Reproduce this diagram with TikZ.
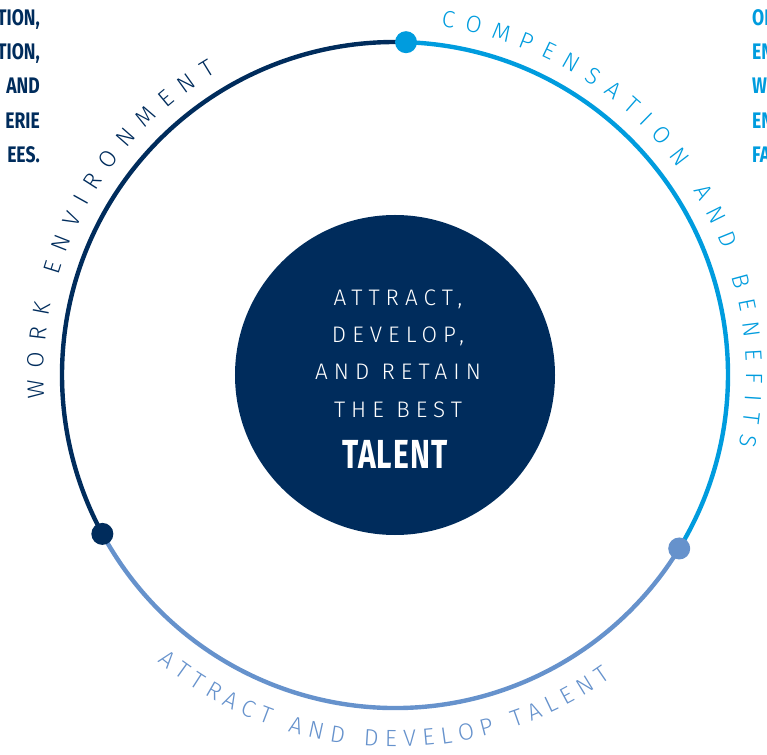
\documentclass[tikz,border=0pt]{standalone}
\usepackage{fontspec}
\setmainfont{Fira Sans}
\IfFontExistsTF{Fira Sans Book}
  {\newfontfamily\lightfont{Fira Sans Book}
   \newfontfamily\centerfont[LetterSpace=27]{Fira Sans Book}}
  {\newfontfamily\lightfont{Fira Sans Light}
   \newfontfamily\centerfont[LetterSpace=27]{Fira Sans Light}}
\newfontfamily\condfont[FakeStretch=0.78]{Fira Sans}
\newfontfamily\talentfont[FakeStretch=0.74,LetterSpace=3]{Fira Sans}
\usetikzlibrary{decorations.text}
\definecolor{navy}{RGB}{0,44,92}
\definecolor{cyanb}{RGB}{0,156,222}
\definecolor{midb}{RGB}{102,146,204}
\def\arcfont{\lightfont\fontsize{23.5}{27}\selectfont}
\begin{document}
\begin{tikzpicture}[x=1pt,y=1pt,
  ring/.style={line width=4.4pt},
  dot/.style={circle,inner sep=0pt,minimum size=22pt},
  ctext/.style={text=white,font=\centerfont\fontsize{22.5}{26}\selectfont,anchor=base,inner sep=0pt},
  side/.style={font=\condfont\bfseries\fontsize{22.5}{25}\selectfont,inner sep=0pt},
  arclabel/.style={decorate,decoration={text along path,text align=fit to path}}
]
\useasboundingbox (-395,-379) rectangle (372,375);
\clip (-395,-379) rectangle (372,375);
% core
\node[circle,fill=navy,minimum size=320pt,inner sep=0pt] (core) at (0,0) {};
\node[ctext] (l1) at (3,69) {ATTRACT,};
\node[ctext] (l2) at (3,32) {DEVELOP,};
\node[ctext] (l3) at (3,-5) {AND RETAIN};
\node[ctext] (l4) at (3,-42) {THE BEST};
\node[text=white,font=\talentfont\bfseries\fontsize{40.6}{44}\selectfont,anchor=base,inner sep=0pt] (l5) at (0,-93) {TALENT};
% ring
\coordinate (p1) at (88.1:333);
\coordinate (p2) at (208.5:333);
\coordinate (p3) at (-31.4:333);
\draw[ring,navy] (p1) arc[start angle=88.1,end angle=208.5,radius=333];
\draw[ring,cyanb] (p1) arc[start angle=88.1,end angle=-31.4,radius=333];
\draw[ring,midb] (p2) arc[start angle=208.5,end angle=328.6,radius=333];
\node[dot,fill=cyanb] (d1) at (p1) {};
\node[dot,fill=navy] (d2) at (p2) {};
\node[dot,fill=midb] (d3) at (p3) {};
% arc labels
\path[arclabel,decoration={text={|\arcfont|WORK ENVIRONMENT},text color=navy}]
  (183.9:351) arc[start angle=183.9,end angle=120.6,radius=351];
\path[arclabel,decoration={text={|\arcfont|COMPENSATION AND BENEFITS},text color=cyanb}]
  (82.5:351) arc[start angle=82.5,end angle=-11.7,radius=351];
\path[arclabel,decoration={text={|\arcfont|ATTRACT AND DEVELOP TALENT},text color=midb}]
  (230.4:372) arc[start angle=230.4,end angle=305.4,radius=372];
% side texts
\node[side,text=navy,anchor=base east] (s1) at (-355,349) {TION,};
\node[side,text=navy,anchor=base east] (s2) at (-355,315) {TION,};
\node[side,text=navy,anchor=base east] (s3) at (-355,281) {AND};
\node[side,text=navy,anchor=base east] (s4) at (-355,246) {ERIE};
\node[side,text=navy,anchor=base east] (s5) at (-355,212) {EES.};
\node[side,text=cyanb,anchor=base west] (r1) at (357,349) {ON};
\node[side,text=cyanb,anchor=base west] (r2) at (357,315) {EN};
\node[side,text=cyanb,anchor=base west] (r3) at (357,281) {WE};
\node[side,text=cyanb,anchor=base west] (r4) at (357,246) {EN};
\node[side,text=cyanb,anchor=base west] (r5) at (357,212) {FA};
\end{tikzpicture}
\end{document}
